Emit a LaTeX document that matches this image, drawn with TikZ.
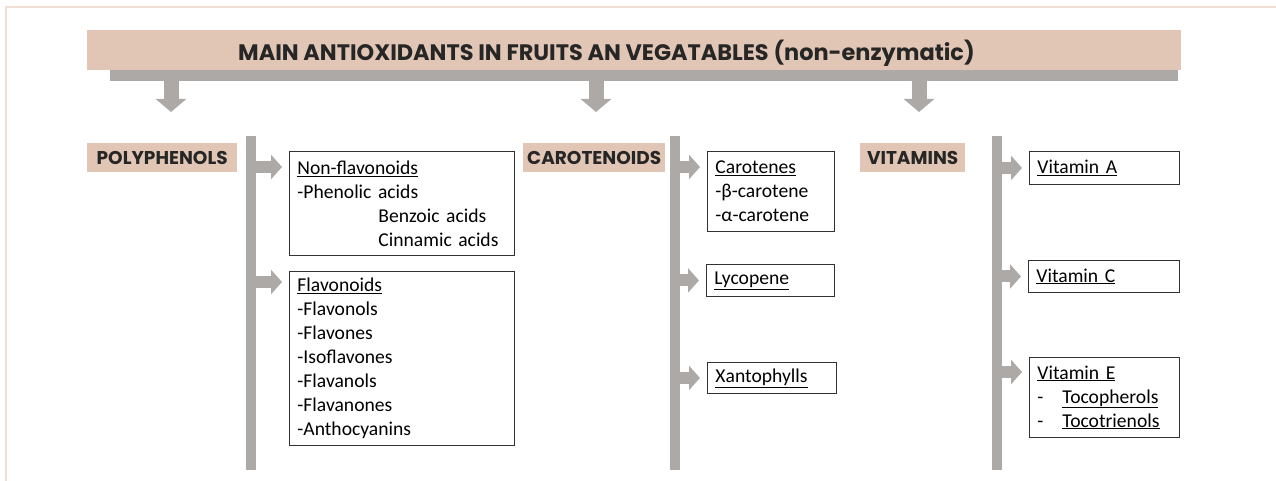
\documentclass[tikz,border=0pt]{standalone}
\usepackage{fontspec}
\setmainfont[WordSpace=0.75]{Carlito}
\newfontfamily\headfont{Poppins}
\usetikzlibrary{arrows.meta, positioning}
\definecolor{peach}{RGB}{226,198,181}
\definecolor{bargray}{RGB}{173,169,167}
\definecolor{frame}{RGB}{241,222,212}

\begin{document}
\begin{tikzpicture}[x=1pt, y=-1pt]
    % Define styles
    \tikzstyle{head} = [fill=peach, inner sep=0pt, anchor=north west, minimum height=29pt, font=\headfont\bfseries\fontsize{18.5}{20}\selectfont, text=black!85]
    \tikzstyle{item} = [draw=black!80, line width=0.9pt, anchor=north west, inner xsep=8pt, inner ysep=0pt, align=left, font=\fontsize{19.6}{24}\selectfont]
    \tikzstyle{stem} = [fill=bargray, inner sep=0pt, anchor=north, minimum width=10pt, minimum height=334pt]
    \tikzstyle{down} = [bargray, line width=15pt, -{Triangle[width=30pt, length=13pt]}]
    \tikzstyle{side} = [bargray, line width=12pt, -{Triangle[width=24pt, length=11pt]}, shorten >=7pt]

    \useasboundingbox (0,0) rectangle (1276,481);
    \draw[frame, line width=2pt] (6,481) -- (6,7) -- (1276,7);

    % Title band
    \node[fill=bargray, inner sep=0pt, anchor=north west, minimum width=1068pt, minimum height=11pt] (shade) at (110,70) {};
    \node[fill=peach, inner sep=0pt, anchor=north west, minimum width=1094pt, minimum height=40pt] (band) at (87,30) {};
    \node[anchor=west, inner sep=0pt, font=\headfont\bfseries\fontsize{22.4}{24}\selectfont, text=black!85] (title) at (238,53) {MAIN ANTIOXIDANTS IN FRUITS AN VEGATABLES (non-enzymatic)};

    % Down arrows
    \coordinate (d1) at (171,112);
    \coordinate (d2) at (596,112);
    \coordinate (d3) at (919,112);
    \draw[down] (d1 |- shade.south) -- (d1);
    \draw[down] (d2 |- shade.south) -- (d2);
    \draw[down] (d3 |- shade.south) -- (d3);

    % Groups
    \node[head, minimum width=150pt] (poly) at (87,143) {POLYPHENOLS};
    \node[head, minimum width=142pt] (caro) at (523,143) {CAROTENOIDS};
    \node[head, minimum width=105pt] (vita) at (860,143) {VITAMINS};

    \node[stem] (s1) at (251,136) {};
    \node[stem] (s2) at (675,136) {};
    \node[stem] (s3) at (997,136) {};

    % Polyphenols
    \node[item, text width=209pt, minimum height=104pt] (nonfla) at (289,151) {\underline{Non-flavonoids}\\-Phenolic acids\\\hspace*{81pt}Benzoic acids\\\hspace*{81pt}Cinnamic acids};
    \node[item, text width=209pt, minimum height=174pt] (flavo) at (289,271) {\underline{Flavonoids}\\-Flavonols\\-Flavones\\-Isoflavones\\-Flavanols\\-Flavanones\\-Anthocyanins};

    % Carotenoids
    \node[item, text width=111pt, minimum height=80pt] (carot) at (707,151) {\underline{Carotenes}\\-β-carotene\\-α-carotene};
    \node[item, text width=112pt, minimum height=32pt] (lyco) at (706,264) {\underline{Lycopene}};
    \node[item, text width=113pt, minimum height=31pt] (xanto) at (707,362) {\underline{Xantophylls}};

    % Vitamins
    \node[item, text width=134pt, minimum height=33pt] (vitA) at (1029,151) {\underline{Vitamin A}};
    \node[item, text width=135pt, minimum height=32pt] (vitC) at (1028,260) {\underline{Vitamin C}};
    \node[item, text width=134pt, minimum height=80pt] (vitE) at (1029,357) {\underline{Vitamin E}\\\makebox[25pt][l]{-}\underline{Tocopherols}\\\makebox[25pt][l]{-}\underline{Tocotrienols}};

    % Side arrows
    \coordinate (a1) at ([yshift=-16pt]nonfla.north west);
    \coordinate (a2) at ([yshift=-11pt]flavo.north west);
    \coordinate (a3) at ([yshift=-16pt]carot.north west);
    \coordinate (a4) at (xanto.west);
    \coordinate (a5) at ([yshift=-15pt]vitE.north west);
    \draw[side] (s1 |- a1) -- (a1);
    \draw[side] (s1 |- a2) -- (a2);
    \draw[side] (s2 |- a3) -- (a3);
    \draw[side] (s2 |- lyco.west) -- (lyco.west);
    \draw[side] (s2 |- a4) -- (a4);
    \draw[side] (s3 |- vitA.west) -- (vitA.west);
    \draw[side] (s3 |- vitC.west) -- (vitC.west);
    \draw[side] (s3 |- a5) -- (a5);

\end{tikzpicture}
\end{document}
